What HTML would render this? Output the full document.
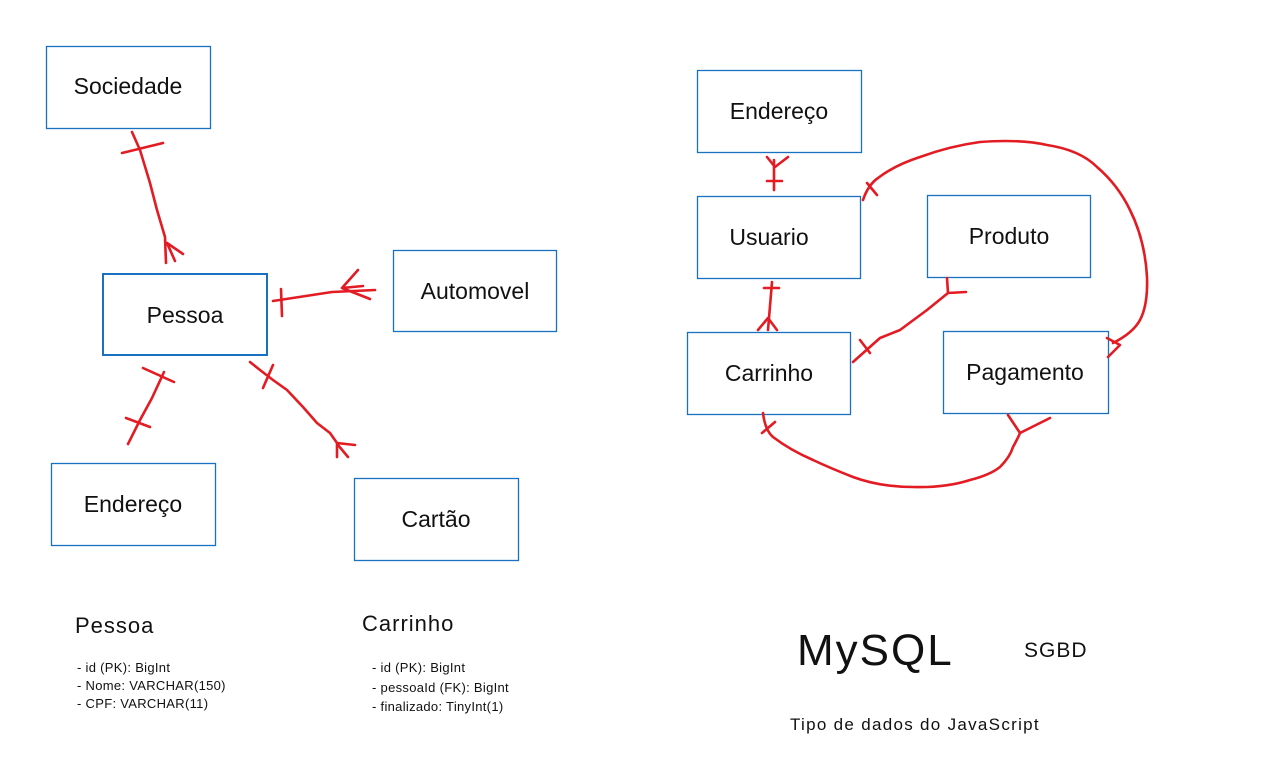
<!DOCTYPE html>
<html><head><meta charset="utf-8"><style>
html,body{margin:0;padding:0;background:#fff;}
svg{display:block;}
text{font-family:"Liberation Sans",sans-serif;fill:#111;}
</style></head><body>
<svg width="1265" height="758" viewBox="0 0 1265 758" xmlns="http://www.w3.org/2000/svg">
<g fill="none" stroke="#1971c2" stroke-width="1.3">
<rect x="46.5" y="46.5" width="164" height="82"/>
<rect x="103" y="274" width="164" height="81" stroke-width="2"/>
<rect x="393.5" y="250.5" width="163" height="81"/>
<rect x="51.5" y="463.5" width="164" height="82"/>
<rect x="354.5" y="478.5" width="164" height="82"/>
<rect x="697.5" y="70.5" width="164" height="82"/>
<rect x="697.5" y="196.5" width="163" height="82"/>
<rect x="927.5" y="195.5" width="163" height="82"/>
<rect x="687.5" y="332.5" width="163" height="82"/>
<rect x="943.5" y="331.5" width="165" height="82"/>
</g>
<g font-size="23" text-anchor="middle">
<text x="128" y="94">Sociedade</text>
<text x="185" y="323">Pessoa</text>
<text x="475" y="299">Automovel</text>
<text x="133" y="512">Endereço</text>
<text x="436" y="527">Cartão</text>
<text x="779" y="119">Endereço</text>
<text x="769" y="245">Usuario</text>
<text x="1009" y="244">Produto</text>
<text x="769" y="381">Carrinho</text>
<text x="1025" y="380">Pagamento</text>
</g>
<g fill="none" stroke="#e31b23" stroke-width="2.6" stroke-linecap="round" stroke-linejoin="round">
<path d="M132,132 L140,150 L150,183 L157,210 L165,237 L166,263"/>
<path d="M122,153 L163,143"/>
<path d="M167,243 L183,254 M167,243 L175,261"/>
<path d="M273,301 L332,292 L375,290"/>
<path d="M281,289 L282,316"/>
<path d="M358,270 L342,288 L363,286 M342,288 L370,299"/>
<path d="M128,444 L140,420 L152,398 L164,372"/>
<path d="M126,418 L150,427 M143,368 L174,382"/>
<path d="M250,362 L260,370 L273,380 L287,390 L303,407 L317,423 L330,433 L337,443 L337,457"/>
<path d="M273,365 L263,388"/>
<path d="M337,443 L355,445 M338,445 L348,457"/>
<path d="M774,160 L774,190 M767,157 L775,167 L788,157 M767,181 L782,181"/>
<path d="M772,282 L768,330 M764,288 L779,288 M768,318 L758,330 M768,318 L777,330"/>
<path d="M947,278 L948,293 L927,310 L900,330 L880,338 L853,362"/>
<path d="M948,293 L966,292 M860,340 L870,353"/>
<path d="M863,200 Q868,185 878,178 Q895,165 920,157 Q950,146 980,142 Q1020,139 1047,145 Q1080,150 1097,167 Q1118,185 1130,210 Q1145,240 1147,277 Q1148,305 1140,320 Q1133,333 1113,343"/>
<path d="M867,183 L877,195 M1107,338 L1120,345 L1108,357"/>
<path d="M763,413 Q765,430 773,437 Q790,450 813,460 Q830,468 853,477 Q880,487 913,487 Q945,488 970,480 Q990,475 1000,467 Q1010,457 1013,447 Q1018,438 1020,433"/>
<path d="M1008,415 L1020,433 L1050,418 M762,433 L775,422"/>
</g>
<text x="75" y="633" font-size="22" letter-spacing="1">Pessoa</text>
<text x="362" y="631" font-size="22" letter-spacing="1">Carrinho</text>
<g font-size="13" letter-spacing="0.3">
<text x="77" y="672">-  id (PK):  BigInt</text>
<text x="77" y="690">- Nome: VARCHAR(150)</text>
<text x="77" y="708">- CPF: VARCHAR(11)</text>
<text x="372" y="672">- id (PK): BigInt</text>
<text x="372" y="692">- pessoaId (FK): BigInt</text>
<text x="372" y="711">- finalizado: TinyInt(1)</text>
</g>
<text x="797" y="665" font-size="44" letter-spacing="2">MySQL</text>
<text x="1024" y="657" font-size="21" letter-spacing="1">SGBD</text>
<text x="790" y="730" font-size="17" letter-spacing="1.3">Tipo de dados do JavaScript</text>
</svg>
</body></html>
